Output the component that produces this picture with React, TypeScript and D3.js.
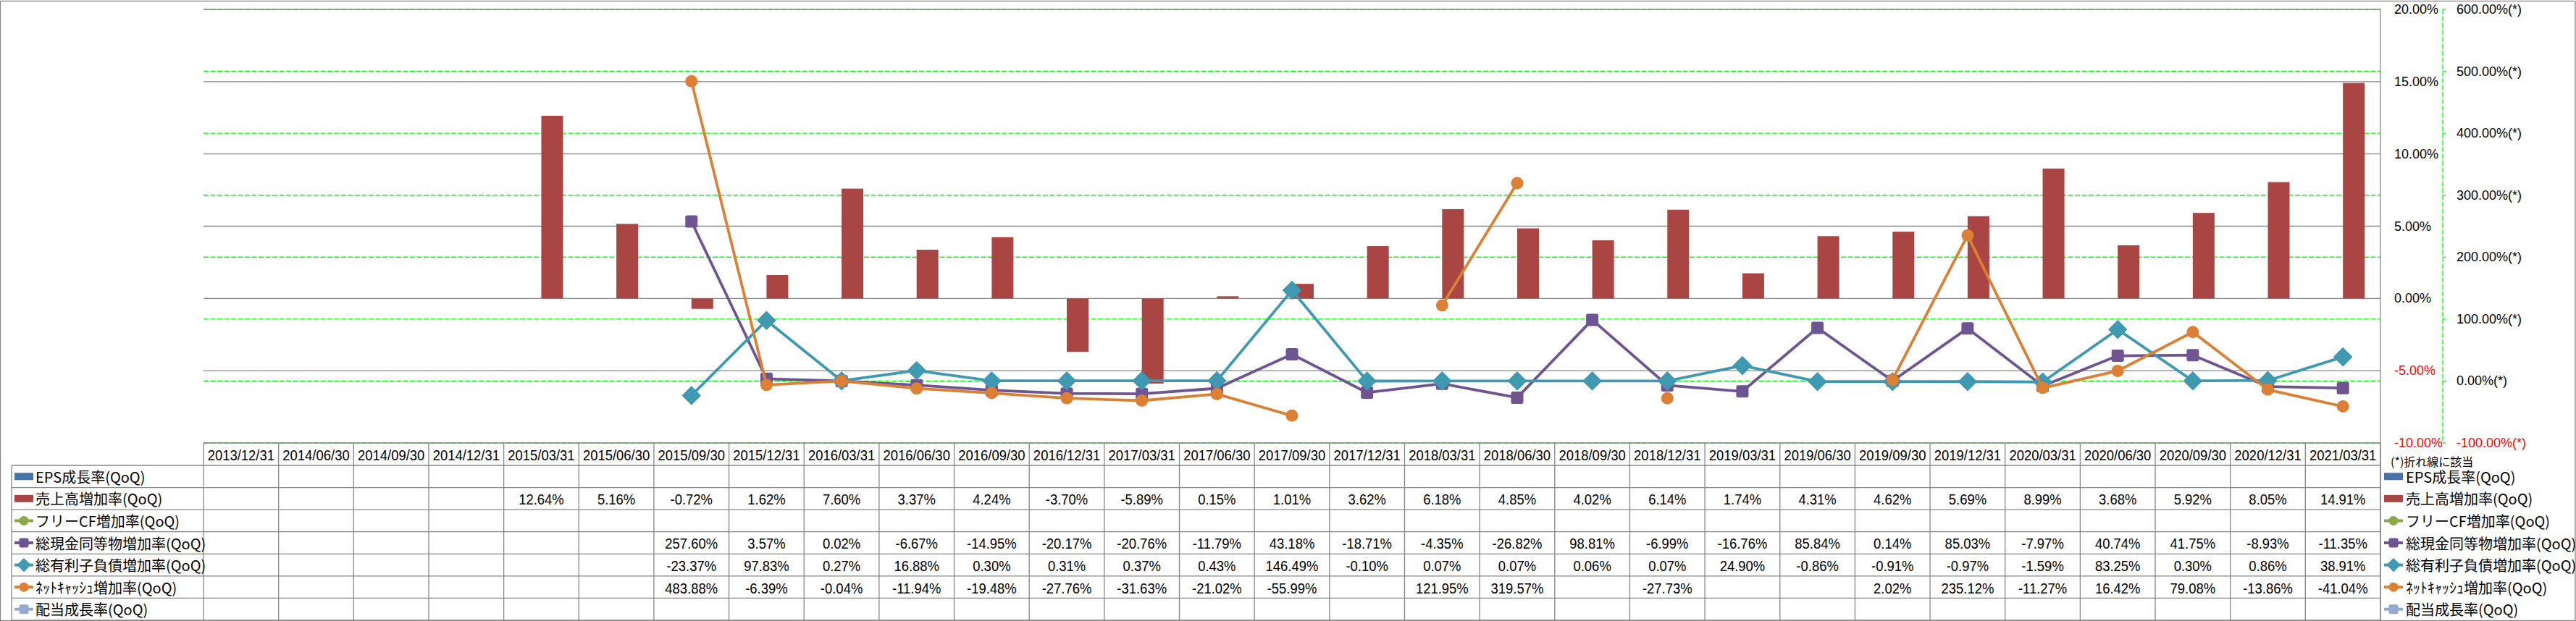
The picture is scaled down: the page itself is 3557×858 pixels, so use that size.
import React from 'react';
import * as d3 from 'd3';

const categories = [
  '2013/12/31', '2014/06/30', '2014/09/30', '2014/12/31',
  '2015/03/31', '2015/06/30', '2015/09/30', '2015/12/31',
  '2016/03/31', '2016/06/30', '2016/09/30', '2016/12/31',
  '2017/03/31', '2017/06/30', '2017/09/30', '2017/12/31',
  '2018/03/31', '2018/06/30', '2018/09/30', '2018/12/31',
  '2019/03/31', '2019/06/30', '2019/09/30', '2019/12/31',
  '2020/03/31', '2020/06/30', '2020/09/30', '2020/12/31',
  '2021/03/31',
];

const epsGrowth: (number | null)[] = categories.map(() => null);
const salesGrowth: (number | null)[] = [
  null, null, null, null,
  12.64, 5.16, -0.72, 1.62, 7.60, 3.37, 4.24, -3.70, -5.89, 0.15, 1.01, 3.62,
  6.18, 4.85, 4.02, 6.14, 1.74, 4.31, 4.62, 5.69, 8.99, 3.68, 5.92, 8.05, 14.91,
];
const freeCfGrowth: (number | null)[] = categories.map(() => null);
const cashGrowth: (number | null)[] = [
  null, null, null, null, null, null,
  257.60, 3.57, 0.02, -6.67, -14.95, -20.17, -20.76, -11.79, 43.18, -18.71,
  -4.35, -26.82, 98.81, -6.99, -16.76, 85.84, 0.14, 85.03, -7.97, 40.74, 41.75, -8.93, -11.35,
];
const debtGrowth: (number | null)[] = [
  null, null, null, null, null, null,
  -23.37, 97.83, 0.27, 16.88, 0.30, 0.31, 0.37, 0.43, 146.49, -0.10,
  0.07, 0.07, 0.06, 0.07, 24.90, -0.86, -0.91, -0.97, -1.59, 83.25, 0.30, 0.86, 38.91,
];
const netCashGrowth: (number | null)[] = [
  null, null, null, null, null, null,
  483.88, -6.39, -0.04, -11.94, -19.48, -27.76, -31.63, -21.02, -55.99, null,
  121.95, 319.57, null, -27.73, null, null, 2.02, 235.12, -11.27, 16.42, 79.08, -13.86, -41.04,
];
const dividendGrowth: (number | null)[] = categories.map(() => null);

const leftTicks = [-10, -5, 0, 5, 10, 15, 20];
const rightTicks = [-100, 0, 100, 200, 300, 400, 500, 600];

type Series = {
  name: string;
  kind: 'bar' | 'line';
  marker?: 'square' | 'diamond' | 'circle';
  color: string;
  values: (number | null)[];
};

const series: Series[] = [
  { name: 'EPS成長率(QoQ)', kind: 'bar', color: '#4674AA', values: epsGrowth },
  { name: '売上高増加率(QoQ)', kind: 'bar', color: '#A94644', values: salesGrowth },
  { name: 'フリーCF増加率(QoQ)', kind: 'line', marker: 'circle', color: '#8AA948', values: freeCfGrowth },
  { name: '総現金同等物増加率(QoQ)', kind: 'line', marker: 'square', color: '#6E5491', values: cashGrowth },
  { name: '総有利子負債増加率(QoQ)', kind: 'line', marker: 'diamond', color: '#3F99B0', values: debtGrowth },
  { name: 'ﾈｯﾄｷｬｯｼｭ増加率(QoQ)', kind: 'line', marker: 'circle', color: '#DC8035', values: netCashGrowth },
  { name: '配当成長率(QoQ)', kind: 'line', marker: 'square', color: '#93A9CF', values: dividendGrowth },
];

const W = 3557;
const H = 858;
const PL = 281;
const PR = 3287;
const PT = 13;
const PB = 612;
const TABLE_HEAD_BOTTOM = 643;
const TABLE_BOTTOM = 857;
const LEGEND_LEFT = 16;
const GRID = '#878787';
const GREEN = '#00FF00';
const LATIN = '"Liberation Sans", Arial, sans-serif';
const CJK = '"Noto Sans CJK JP", "Liberation Sans", sans-serif';

function Marker({ type, x, y, color, size }: { type: string; x: number; y: number; color: string; size: number }) {
  if (type === 'square') {
    return <rect x={x - size / 2} y={y - size / 2} width={size} height={size} rx={2.5} fill={color} />;
  }
  if (type === 'diamond') {
    const r = size * 0.72;
    return <path d={`M${x},${y - r}L${x + r},${y}L${x},${y + r}L${x - r},${y}Z`} fill={color} stroke={color} strokeWidth={1.5} strokeLinejoin="round" />;
  }
  return <circle cx={x} cy={y} r={size / 2} fill={color} />;
}

function LegendKey({ s, x, y }: { s: Series; x: number; y: number }) {
  if (s.kind === 'bar') {
    return <rect x={x} y={y - 5} width={26} height={10} fill={s.color} />;
  }
  return (
    <g>
      <line x1={x} x2={x + 26} y1={y} y2={y} stroke={s.color} strokeWidth={4} />
      <Marker type={s.marker!} x={x + 13} y={y} color={s.color} size={s.marker === 'diamond' ? 12 : 13} />
    </g>
  );
}

function CellText({ x, y, children }: { x: number; y: number; children: React.ReactNode }) {
  return (
    <text
      transform={`translate(${x},${y}) scale(0.9,1)`}
      x={0}
      y={0}
      textAnchor="middle"
      dominantBaseline="central"
      fontFamily={LATIN}
      fontSize={20.5}
      fill="#000"
    >
      {children}
    </text>
  );
}

export default function App() {
  const x = d3.scaleBand<string>().domain(categories).range([PL, PR]).paddingInner(0).paddingOuter(0);
  const bw = x.bandwidth();
  const barSeries = series.filter((s) => s.kind === 'bar');
  const xSub = d3.scaleBand<string>().domain(barSeries.map((s) => s.name)).range([-30, 30]).padding(0);
  const yL = d3.scaleLinear().domain([-10, 20]).range([PB, PT]);
  const yR = d3.scaleLinear().domain([-100, 600]).range([PB, PT]);
  const cx = (c: string) => (x(c) as number) + bw / 2;

  const rowH = (TABLE_BOTTOM - TABLE_HEAD_BOTTOM) / series.length;
  const rowY = (i: number) => TABLE_HEAD_BOTTOM + i * rowH;

  const fmtL = (v: number) => `${v.toFixed(2)}%`;

  return (
    <svg width={W} height={H} style={{ position: 'absolute', left: 0, top: 0, background: '#fff' }} xmlns="http://www.w3.org/2000/svg">
      <rect x={0} y={0} width={W} height={H} fill="#fff" />
      {/* outer border */}
      <rect x={0.5} y={1.5} width={W - 1.5} height={H - 2} fill="none" stroke={GRID} strokeWidth={1.3} />

      {/* secondary gridlines (green dashed) */}
      {rightTicks.map((t) => (
        <line key={`g${t}`} x1={PL} x2={PR} y1={yR(t)} y2={yR(t)} stroke={GREEN} strokeWidth={1.4} strokeDasharray="7,2.5" />
      ))}
      {/* primary gridlines */}
      {leftTicks.map((t) => (
        <line key={`p${t}`} x1={PL} x2={PR} y1={yL(t)} y2={yL(t)} stroke={GRID} strokeWidth={1.3} />
      ))}

      {/* bars */}
      {barSeries.map((s) => (
        <g key={s.name}>
          {s.values.map((v, i) =>
            v == null ? null : (
              <rect
                key={i}
                x={cx(categories[i]) + (xSub(s.name) as number)}
                y={Math.min(yL(v), yL(0))}
                width={xSub.bandwidth()}
                height={Math.abs(yL(v) - yL(0))}
                fill={s.color}
              />
            )
          )}
        </g>
      ))}

      {/* lines */}
      {series
        .filter((s) => s.kind === 'line')
        .map((s) => {
          const pts = s.values.map((v, i) => ({ c: categories[i], v }));
          const line = d3
            .line<{ c: string; v: number | null }>()
            .defined((d) => d.v != null)
            .x((d) => cx(d.c))
            .y((d) => yR(d.v as number));
          return (
            <g key={s.name}>
              <path d={line(pts) || ''} fill="none" stroke={s.color} strokeWidth={3.8} strokeLinejoin="round" />
              {pts.map((d, i) =>
                d.v == null ? null : (
                  <Marker key={i} type={s.marker!} x={cx(d.c)} y={yR(d.v)} color={s.color} size={17} />
                )
              )}
            </g>
          );
        })}

      {/* right border line of plot + table */}
      <line x1={PR} x2={PR} y1={PT} y2={TABLE_BOTTOM} stroke={GRID} strokeWidth={1.3} />

      {/* primary axis labels */}
      {leftTicks.map((t) => (
        <text key={`lt${t}`} x={3306} y={yL(t)} dominantBaseline="central" fontFamily={LATIN} fontSize={18} fill={t < 0 ? '#FF0000' : '#000'}>
          {fmtL(t)}
        </text>
      ))}

      {/* secondary axis */}
      <line x1={3373} x2={3373} y1={PT} y2={PB} stroke={GREEN} strokeWidth={1.3} strokeDasharray="7,2.5" />
      {rightTicks.map((t) => (
        <g key={`rt${t}`}>
          <line x1={3373} x2={3377} y1={yR(t)} y2={yR(t)} stroke={GREEN} strokeWidth={1.3} />
          <text x={3392} y={yR(t)} dominantBaseline="central" fontFamily={LATIN} fontSize={18} fill={t < 0 ? '#FF0000' : '#000'}>
            {`${t.toFixed(2)}%(*)`}
          </text>
        </g>
      ))}
      <text x={3301} y={637} dominantBaseline="central" fontFamily={CJK} fontSize={16} fill="#000">
        (*)折れ線に該当
      </text>

      {/* data table */}
      <g stroke={GRID} strokeWidth={1.3}>
        {d3.range(categories.length + 1).map((i) => {
          const xx = i === categories.length ? PR : (x(categories[i]) as number);
          return <line key={`v${i}`} x1={xx} x2={xx} y1={PB} y2={TABLE_BOTTOM} />;
        })}
        {d3.range(series.length + 1).map((i) => (
          <line key={`h${i}`} x1={LEGEND_LEFT} x2={PR} y1={rowY(i)} y2={rowY(i)} />
        ))}
        <line x1={LEGEND_LEFT} x2={LEGEND_LEFT} y1={TABLE_HEAD_BOTTOM} y2={TABLE_BOTTOM} />
      </g>
      {categories.map((c) => (
        <CellText key={`c${c}`} x={cx(c)} y={(PB + TABLE_HEAD_BOTTOM) / 2 + 1}>
          {c}
        </CellText>
      ))}
      {series.map((s, si) => (
        <g key={`row${si}`}>
          <LegendKey s={s} x={20} y={rowY(si) + rowH / 2} />
          <text x={49} y={rowY(si) + rowH / 2} dominantBaseline="central" fontFamily={CJK} fontSize={20} fill="#000">
            {s.name}
          </text>
          {s.values.map((v, i) =>
            v == null ? null : (
              <CellText key={i} x={cx(categories[i])} y={rowY(si) + rowH / 2 + 1}>
                {fmtL(v)}
              </CellText>
            )
          )}
          <LegendKey s={s} x={3292} y={rowY(si) + rowH / 2} />
          <text x={3322} y={rowY(si) + rowH / 2} dominantBaseline="central" fontFamily={CJK} fontSize={20} fill="#000">
            {s.name}
          </text>
        </g>
      ))}
    </svg>
  );
}
